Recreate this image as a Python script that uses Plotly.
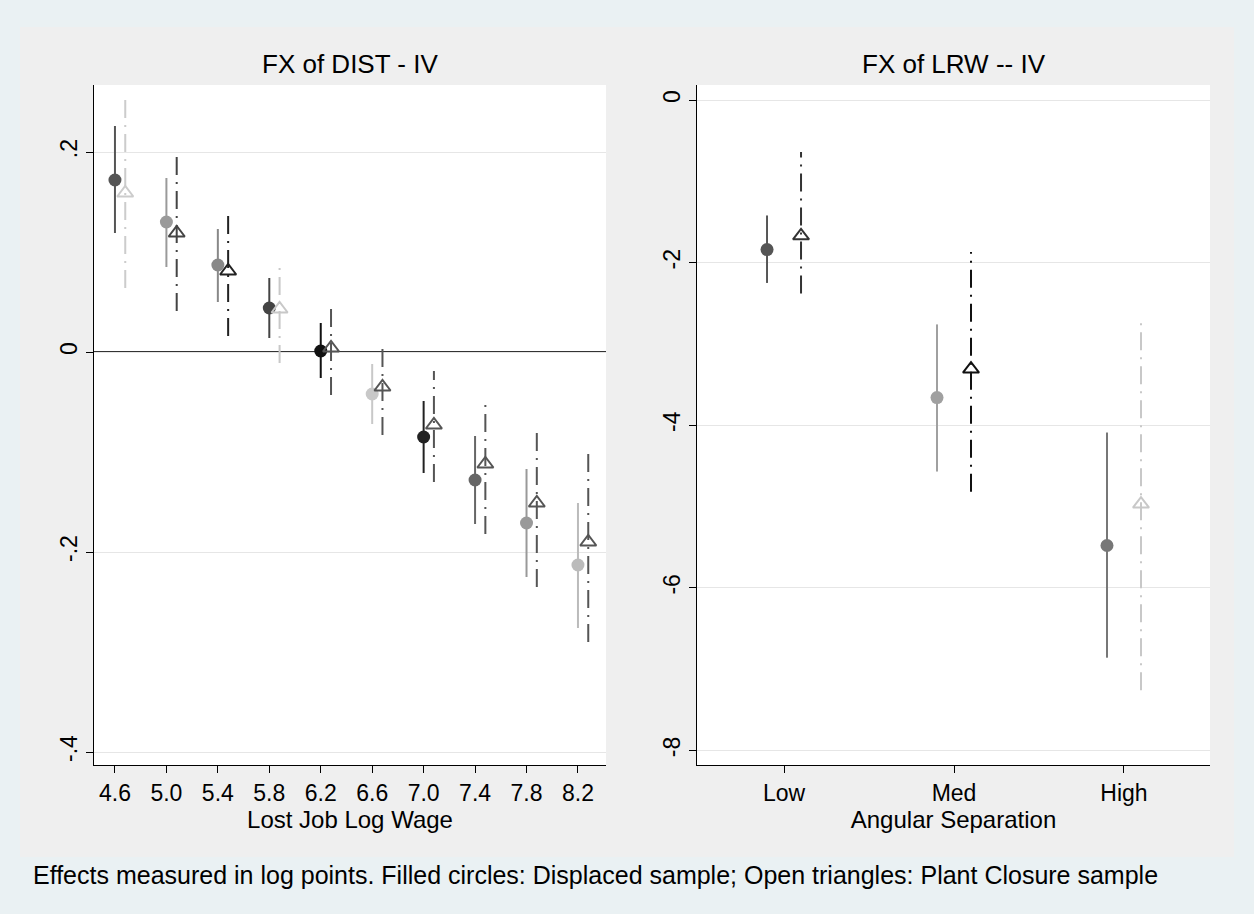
import plotly.graph_objects as go

W, H = 1254, 914

# ---------------- data ----------------
wage_bins = [4.6, 5.0, 5.4, 5.8, 6.2, 6.6, 7.0, 7.4, 7.8, 8.2]
wage_ticktext = ["4.6", "5.0", "5.4", "5.8", "6.2", "6.6", "7.0", "7.4", "7.8", "8.2"]

dist_disp = [0.172, 0.130, 0.087, 0.044, 0.001, -0.042, -0.085, -0.128, -0.171, -0.213]
dist_disp_lo = [0.119, 0.085, 0.050, 0.014, -0.026, -0.072, -0.121, -0.172, -0.225, -0.276]
dist_disp_hi = [0.226, 0.174, 0.123, 0.074, 0.029, -0.012, -0.049, -0.084, -0.117, -0.151]

dist_pc = [0.159, 0.119, 0.081, 0.043, 0.004, -0.035, -0.073, -0.112, -0.151, -0.190]
dist_pc_lo = [0.064, 0.041, 0.016, -0.011, -0.043, -0.083, -0.130, -0.182, -0.235, -0.290]
dist_pc_hi = [0.252, 0.198, 0.140, 0.087, 0.045, 0.005, -0.019, -0.048, -0.076, -0.095]

ang_cats = [1, 2, 3]
ang_ticktext = ["Low", "Med", "High"]

lrw_disp = [-1.84, -3.66, -5.48]
lrw_disp_lo = [-2.25, -4.57, -6.86]
lrw_disp_hi = [-1.42, -2.76, -4.09]

lrw_pc = [-1.67, -3.31, -4.97]
lrw_pc_lo = [-2.38, -4.82, -7.26]
lrw_pc_hi = [-0.64, -1.87, -2.68]

# ---------------- styles ----------------
dist_disp_colors = ["#555555", "#9a9a9a", "#888888", "#444444", "#111111",
                    "#c8c8c8", "#222222", "#666666", "#999999", "#bbbbbb"]
dist_pc_colors = ["#cccccc", "#444444", "#222222", "#c8c8c8", "#555555",
                  "#555555", "#555555", "#555555", "#555555", "#555555"]
lrw_disp_colors = ["#555555", "#a0a0a0", "#777777"]
lrw_pc_colors = ["#333333", "#111111", "#c8c8c8"]

FONT = "Liberation Sans, Arial, Helvetica, sans-serif"
DASHDOT = "18px,7px,2px,7px"
PC_OFF_L = 0.08
DISP_OFF_R = -0.1
PC_OFF_R = 0.1

fig = go.Figure()


def add_group(xs, ys, los, his, colors, xa, ya, kind, off):
    for xv, yv, lo, hi, c in zip(xs, ys, los, his, colors):
        xx = xv + off
        fig.add_trace(go.Scatter(
            x=[xx, xx], y=[lo, hi], mode="lines",
            line=dict(color=c, width=2, dash="solid" if kind == "circle" else DASHDOT),
            xaxis=xa, yaxis=ya, showlegend=False, hoverinfo="skip"))
    xo = [v + off for v in xs]
    if kind == "circle":
        fig.add_trace(go.Scatter(
            x=xo, y=ys, mode="markers",
            marker=dict(symbol="circle", size=13, color=colors, line=dict(width=0)),
            xaxis=xa, yaxis=ya, showlegend=False))
    else:
        fig.add_trace(go.Scatter(
            x=xo, y=ys, mode="markers",
            marker=dict(symbol="triangle-up-open", size=14, color=colors,
                        line=dict(width=2, color=colors)),
            xaxis=xa, yaxis=ya, showlegend=False))


add_group(wage_bins, dist_disp, dist_disp_lo, dist_disp_hi, dist_disp_colors, "x", "y", "circle", 0.0)
add_group(wage_bins, dist_pc, dist_pc_lo, dist_pc_hi, dist_pc_colors, "x", "y", "tri", PC_OFF_L)
add_group(ang_cats, lrw_disp, lrw_disp_lo, lrw_disp_hi, lrw_disp_colors, "x2", "y2", "circle", DISP_OFF_R)
add_group(ang_cats, lrw_pc, lrw_pc_lo, lrw_pc_hi, lrw_pc_colors, "x2", "y2", "tri", PC_OFF_R)

# pixel helpers
def px(x):
    return x / W

def py(y):
    return 1 - y / H

top_px, bot_px = 85, 765
L_l, L_r = 94, 606
R_l, R_r = 697, 1210

axis_common = dict(showline=True, linecolor="#000000", linewidth=1, mirror=False,
                   ticks="outside", ticklen=7, tickwidth=1, tickcolor="#000000",
                   tickfont=dict(family=FONT, size=23, color="#000000"),
                   zeroline=False)

fig.update_layout(
    width=W, height=H,
    margin=dict(l=0, r=0, t=0, b=0),
    paper_bgcolor="#EAF1F3",
    plot_bgcolor="#FFFFFF",
    showlegend=False,
    font=dict(family=FONT, color="#000000"),
    xaxis=dict(domain=[px(L_l), px(L_r)], range=[4.437, 8.418], anchor="y",
               tickmode="array", tickvals=wage_bins, ticktext=wage_ticktext,
               showgrid=False,
               title=dict(text="Lost Job Log Wage", font=dict(family=FONT, size=24), standoff=0),
               **axis_common),
    yaxis=dict(domain=[py(bot_px), py(top_px)], range=[-0.413, 0.267], anchor="x",
               tickmode="array", tickvals=[0.2, 0, -0.2, -0.4], ticktext=[".2", "0", "-.2", "-.4"],
               tickangle=-90, showgrid=True, gridcolor="#E6E6E6", gridwidth=1,
               **axis_common),
    xaxis2=dict(domain=[px(R_l), px(R_r)], range=[0.488, 3.506], anchor="y2",
                tickmode="array", tickvals=ang_cats, ticktext=ang_ticktext,
                showgrid=False,
                title=dict(text="Angular Separation", font=dict(family=FONT, size=24), standoff=0),
                **axis_common),
    yaxis2=dict(domain=[py(bot_px), py(top_px)], range=[-8.18, 0.185], anchor="x2",
                tickmode="array", tickvals=[0, -2, -4, -6, -8], ticktext=["0", "-2", "-4", "-6", "-8"],
                tickangle=-90, showgrid=True, gridcolor="#E6E6E6", gridwidth=1,
                **axis_common),
)

# grey inner panel
fig.add_shape(type="rect", xref="paper", yref="paper",
              x0=px(20), x1=px(1234), y0=py(857), y1=py(27),
              fillcolor="#EFEFEF", line=dict(width=0), layer="below")

# white plot regions (drawn in subplot layers, under the grid)
for xr, yr in (("x domain", "y domain"), ("x2 domain", "y2 domain")):
    fig.add_shape(type="rect", xref=xr, yref=yr, x0=0, x1=1, y0=0, y1=1,
                  fillcolor="#FFFFFF", line=dict(width=0), layer="below")

# zero line in left panel
fig.add_shape(type="line", xref="x domain", yref="y", x0=0, x1=1, y0=0, y1=0,
              line=dict(color="#333333", width=2), layer="below")

# titles
fig.add_annotation(text="FX of DIST - IV", xref="paper", yref="paper",
                   x=px((L_l + L_r) / 2), y=py(64), showarrow=False,
                   font=dict(family=FONT, size=26, color="#000000"),
                   xanchor="center", yanchor="middle")
fig.add_annotation(text="FX of LRW -- IV", xref="paper", yref="paper",
                   x=px((R_l + R_r) / 2), y=py(64), showarrow=False,
                   font=dict(family=FONT, size=26, color="#000000"),
                   xanchor="center", yanchor="middle")
fig.add_annotation(text="Effects measured in log points. Filled circles: Displaced sample; Open triangles: Plant Closure sample",
                   xref="paper", yref="paper", x=px(31), y=py(875), showarrow=False,
                   font=dict(family=FONT, size=25, color="#000000"),
                   xanchor="left", yanchor="middle")

fig.write_html("out.html")
